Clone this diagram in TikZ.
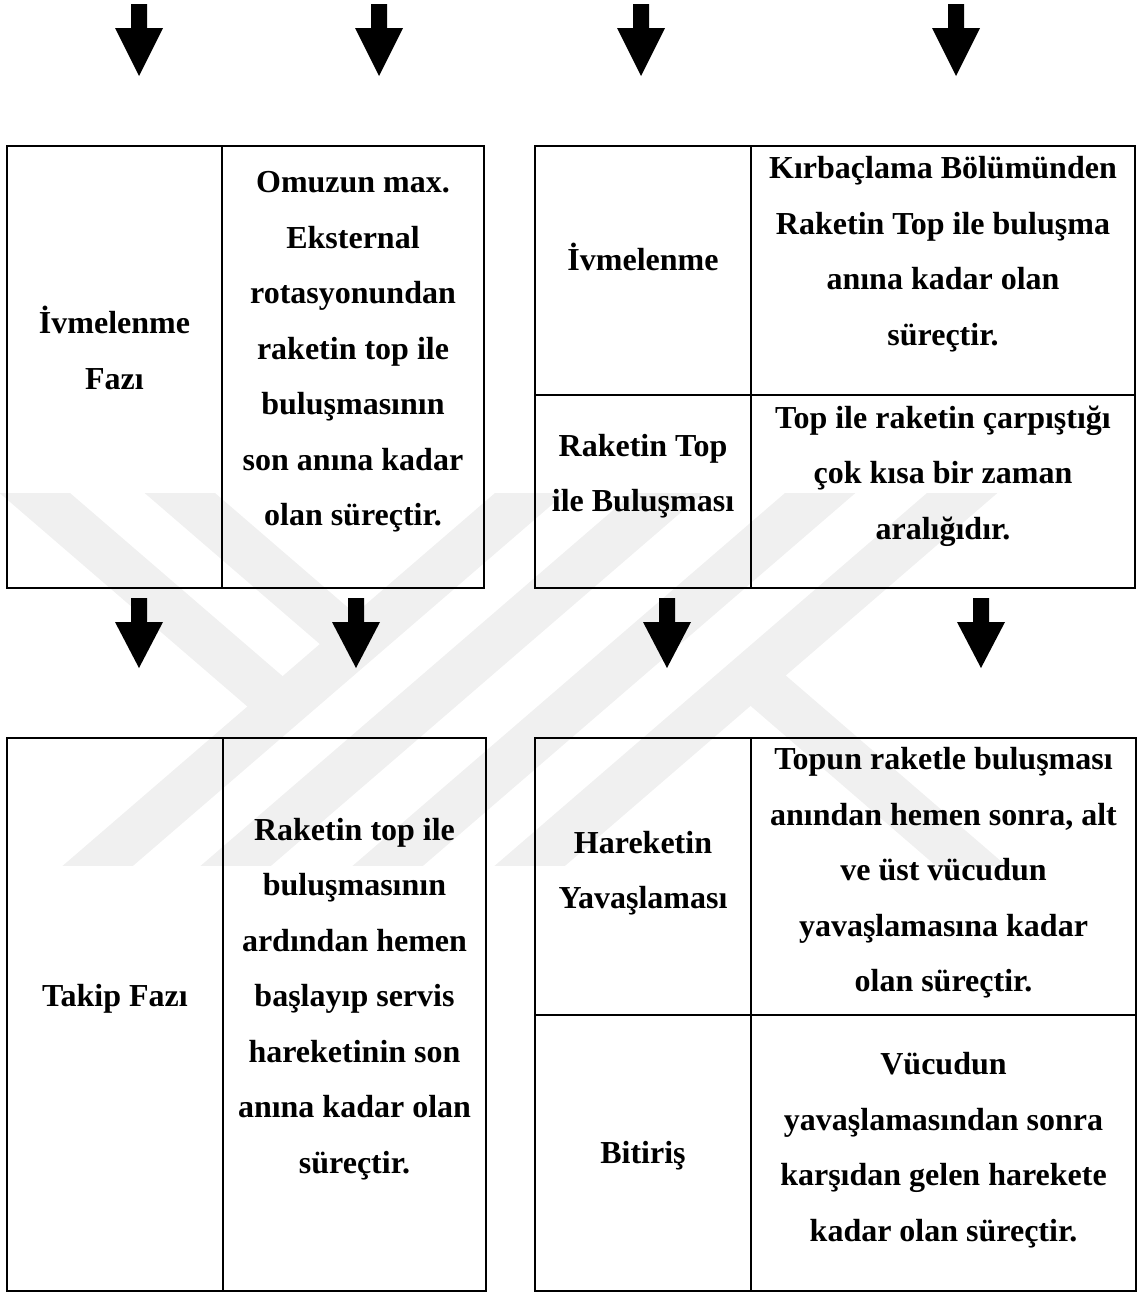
\documentclass[tikz,border=0pt]{standalone}
\usepackage{fontspec}
\setmainfont{Liberation Serif}
\tikzset{frame/.style={line width=2.2pt}}
\tikzset{cell/.style={align=center, inner sep=0pt,
    font=\bfseries\fontsize{32}{55.5}\selectfont,
    execute at begin node=\strut, execute at end node=\strut}}
\tikzset{blockarrow/.style={fill=black}}
\tikzset{wmband/.style={black!6, line width=46pt}}

\begin{document}
\begin{tikzpicture}[x=1pt,y=-1pt]
    \useasboundingbox (0,0) rectangle (1137,1293);
    % faint watermark behind the tables
    \begin{scope}
        \clip (0,493) rectangle (1137,865);
        \foreach \u in {530,668,820,962}
            \draw[wmband] (\u+35,463) -- (\u-466,895);
        \draw[wmband] (0,463) -- (282,706);
        \draw[wmband] (145,463) -- (355,644);
        \draw[wmband] (750,675) -- (1005,895);
    \end{scope}
    % block arrows
    \foreach \ax/\ay/\at in {139/4/76, 379/4/76, 641/4/76, 956/4/76,
                             139/598/668, 356/598/668, 667/598/668, 981/598/668}
        \fill[blockarrow] (\ax-8,\ay) -- (\ax+8,\ay) -- (\ax+8,\ay+24) -- (\ax+24,\ay+24)
            -- (\ax,\at) -- (\ax-24,\ay+24) -- (\ax-8,\ay+24) -- cycle;
    % tables
    \draw[frame] (7,146) rectangle (484,588) (222,146) -- (222,588);
    \draw[frame] (535,146) rectangle (1135,588) (751,146) -- (751,588) (535,395) -- (1135,395);
    \draw[frame] (7,738) rectangle (486,1291) (223,738) -- (223,1291);
    \draw[frame] (535,738) rectangle (1136,1291) (751,738) -- (751,1291) (535,1015) -- (1136,1015);
    % cell texts
    \node[cell] (ivmFazi) at (114.5,356) {İvmelenme\\Fazı};
    \node[cell] (ivmFaziTxt) at (353,357) {Omuzun max.\\Eksternal\\rotasyonundan\\raketin top ile\\buluşmasının\\son anına kadar\\olan süreçtir.};
    \node[cell] (ivm) at (643,259) {İvmelenme};
    \node[cell] (ivmTxt) at (943,259) {Kırbaçlama Bölümünden\\Raketin Top ile buluşma\\anına kadar olan\\süreçtir.};
    \node[cell] (bulus) at (643,481) {Raketin Top\\ile Buluşması};
    \node[cell] (bulusTxt) at (943,481) {Top ile raketin çarpıştığı\\çok kısa bir zaman\\aralığıdır.};
    \node[cell] (takip) at (115,995) {Takip Fazı};
    \node[cell] (takipTxt) at (354.5,1004) {Raketin top ile\\buluşmasının\\ardından hemen\\başlayıp servis\\hareketinin son\\anına kadar olan\\süreçtir.};
    \node[cell] (yavas) at (643,878) {Hareketin\\Yavaşlaması};
    \node[cell] (yavasTxt) at (943.5,878) {Topun raketle buluşması\\anından hemen sonra, alt\\ve üst vücudun\\yavaşlamasına kadar\\olan süreçtir.};
    \node[cell] (bitis) at (643,1152) {Bitiriş};
    \node[cell] (bitisTxt) at (943.5,1155) {Vücudun\\yavaşlamasından sonra\\karşıdan gelen harekete\\kadar olan süreçtir.};
\end{tikzpicture}
\end{document}
